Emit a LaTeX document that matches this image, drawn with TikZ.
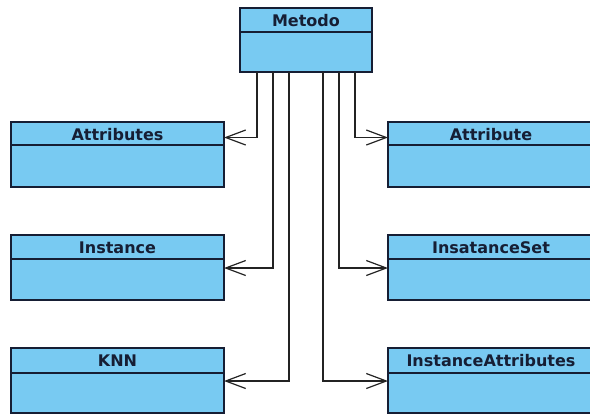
\documentclass[tikz,border=0pt]{standalone}
\usepackage{fontspec}
\setmainfont{DejaVu Sans}
\usetikzlibrary{arrows.meta}
\definecolor{classfill}{RGB}{120,202,242}
\definecolor{classline}{RGB}{22,30,52}
\definecolor{wire}{RGB}{35,35,35}
\tikzset{
  classbox/.style={draw=classline, fill=classfill, line width=1.2bp, anchor=north west, inner sep=0pt, outer sep=0pt},
  title/.style={font=\fontsize{16bp}{19bp}\selectfont\bfseries, text=classline, inner sep=0pt, anchor=base},
  link/.style={draw=wire, line width=1.2bp, -{Straight Barb[length=20bp,width=15bp]}}
}
\begin{document}
\begin{tikzpicture}[x=1bp,y=-1bp]
   \useasboundingbox (0,0) rectangle (590,413);
   \clip (0,0) rectangle (590,413);
   % class boxes
   \node[classbox, minimum width=132bp, minimum height=64bp] (metodo) at (240,8) {};
   \foreach \n/\x/\y/\w in {attributes/11/122/213, attribute/388/122/206,
                            instance/11/235/213, insataceset/388/235/206,
                            knn/11/348/213, instattr/388/348/206}
      \node[classbox, minimum width=\w bp, minimum height=65bp] (\n) at (\x,\y) {};
   % headers
   \foreach \n/\t/\d in {metodo/Metodo/24, attributes/Attributes/23, attribute/Attribute/23,
                         instance/Instance/24, insataceset/InsatanceSet/24,
                         knn/KNN/25, instattr/InstanceAttributes/25} {
      \draw[classline, line width=1.2bp] ([yshift=-\d bp]\n.north west) -- ([yshift=-\d bp]\n.north east);
      \node[title] (t-\n) at ([yshift=-18.5bp]\n.north) {\t};
   }
   % links
   \draw[link] ([xshift=17bp]metodo.south west) |- ([yshift=-15.5bp]attributes.north east);
   \draw[link] ([xshift=33bp]metodo.south west) |- ([yshift=-33bp]instance.north east);
   \draw[link] ([xshift=49bp]metodo.south west) |- ([yshift=-33bp]knn.north east);
   \draw[link] ([xshift=115bp]metodo.south west) |- ([yshift=-15.5bp]attribute.north west);
   \draw[link] ([xshift=99bp]metodo.south west) |- ([yshift=-33bp]insataceset.north west);
   \draw[link] ([xshift=83bp]metodo.south west) |- ([yshift=-33bp]instattr.north west);
\end{tikzpicture}
\end{document}
